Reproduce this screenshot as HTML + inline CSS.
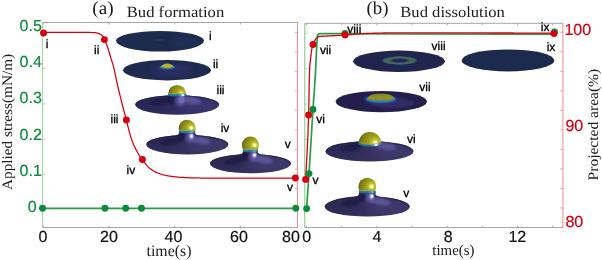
<!DOCTYPE html>
<html><head><meta charset="utf-8"><title>Bud formation and dissolution</title>
<style>
html,body{margin:0;padding:0;background:#fff;}
body{width:602px;height:260px;overflow:hidden;}
svg{display:block;}
</style></head><body>
<svg width="602" height="260" viewBox="0 0 602 260" text-rendering="geometricPrecision">
<rect width="602" height="260" fill="#fff"/>
<defs>
<radialGradient id="sph" cx="0.73" cy="0.5" r="0.86" fx="0.75" fy="0.5">
 <stop offset="0" stop-color="#ffffff"/>
 <stop offset="0.08" stop-color="#ffffa0"/>
 <stop offset="0.17" stop-color="#c8c634"/>
 <stop offset="0.36" stop-color="#a0a01e"/>
 <stop offset="0.66" stop-color="#828216"/>
 <stop offset="0.88" stop-color="#5e5e0d"/>
 <stop offset="1" stop-color="#4a4a0a"/>
</radialGradient>
<linearGradient id="neck" x1="0" x2="1" y1="0" y2="0">
 <stop offset="0" stop-color="#252458"/>
 <stop offset="0.45" stop-color="#38357a"/>
 <stop offset="0.75" stop-color="#5a52a0"/>
 <stop offset="1" stop-color="#3a3780"/>
</linearGradient>
<radialGradient id="discP" cx="0.55" cy="0.35" r="0.7">
 <stop offset="0" stop-color="#45408a"/>
 <stop offset="0.5" stop-color="#37357a"/>
 <stop offset="1" stop-color="#2f2f6c"/>
</radialGradient>
<radialGradient id="discN" cx="0.55" cy="0.4" r="0.7">
 <stop offset="0" stop-color="#2b2d60"/>
 <stop offset="1" stop-color="#1f2a52"/>
</radialGradient>
<radialGradient id="hl" cx="0.5" cy="0.5" r="0.5">
 <stop offset="0" stop-color="#ffffff" stop-opacity="1"/>
 <stop offset="0.3" stop-color="#ffffff" stop-opacity="0.95"/>
 <stop offset="0.55" stop-color="#cfc8ff" stop-opacity="0.6"/>
 <stop offset="1" stop-color="#7a70c0" stop-opacity="0"/>
</radialGradient>
<linearGradient id="ring" x1="0" x2="0" y1="0" y2="1">
 <stop offset="0" stop-color="#4d9478"/>
 <stop offset="0.3" stop-color="#1f8a9c"/>
 <stop offset="0.7" stop-color="#236f9c"/>
 <stop offset="1" stop-color="#33468a"/>
</linearGradient>
<linearGradient id="ringhl" x1="0" x2="1" y1="0" y2="0">
 <stop offset="0" stop-color="#0a4a60" stop-opacity="0.45"/>
 <stop offset="0.45" stop-color="#2aa3b4" stop-opacity="0"/>
 <stop offset="0.80" stop-color="#b0f4ff" stop-opacity="0.85"/>
 <stop offset="1" stop-color="#2aa3b4" stop-opacity="0"/>
</linearGradient>
<filter id="b3" x="-30%" y="-50%" width="160%" height="200%"><feGaussianBlur stdDeviation="3"/></filter>
<radialGradient id="r8" cx="0.5" cy="0.5" r="0.5">
 <stop offset="0" stop-color="#2a1f5a" stop-opacity="1"/>
 <stop offset="0.36" stop-color="#29235c" stop-opacity="1"/>
 <stop offset="0.50" stop-color="#1f7480"/>
 <stop offset="0.60" stop-color="#557f4c"/>
 <stop offset="0.69" stop-color="#806c40"/>
 <stop offset="0.78" stop-color="#4a7f55"/>
 <stop offset="0.90" stop-color="#1d6f7c"/>
 <stop offset="1" stop-color="#20264f" stop-opacity="0"/>
</radialGradient>
<linearGradient id="d7" x1="0" x2="0" y1="0" y2="1">
 <stop offset="0" stop-color="#868622"/>
 <stop offset="0.6" stop-color="#939128"/>
 <stop offset="0.85" stop-color="#97843a"/>
 <stop offset="1" stop-color="#6a9250"/>
</linearGradient>
<filter id="b05" x="-10%" y="-30%" width="120%" height="160%"><feGaussianBlur stdDeviation="0.35"/></filter>
<filter id="b1" x="-10%" y="-30%" width="120%" height="160%"><feGaussianBlur stdDeviation="0.5"/></filter>
<filter id="b2" x="-30%" y="-30%" width="160%" height="160%"><feGaussianBlur stdDeviation="0.9"/></filter>
</defs>
<path d="M42.5,22.5 H297.5 M42.5,227.5 H297.5" stroke="#a6a6a6" stroke-width="1" fill="none"/>
<path d="M42.5,22.5 V227.5" stroke="#a2d6a2" stroke-width="1.1" fill="none"/>
<path d="M297.5,22.5 V227.5" stroke="#f28a8a" stroke-width="1" fill="none"/>
<path d="M43.4,227.5 v-2 M43.4,22.5 v2 M109.0,227.5 v-2 M109.0,22.5 v2 M174.7,227.5 v-2 M174.7,22.5 v2 M240.6,227.5 v-2 M240.6,22.5 v2 " stroke="#a6a6a6" stroke-width="0.9" fill="none"/>
<path d="M42.5,33.4 h2.5 M42.5,68.5 h2.5 M42.5,104.0 h2.5 M42.5,139.3 h2.5 M42.5,174.4 h2.5 M42.5,208.3 h2.5 " stroke="#a2d6a2" stroke-width="1" fill="none"/>
<path d="M297.5,32.30 h-2.5 M297.5,51.82 h-2.5 M297.5,71.34 h-2.5 M297.5,90.86 h-2.5 M297.5,110.38 h-2.5 M297.5,129.90 h-2.5 M297.5,149.42 h-2.5 M297.5,168.94 h-2.5 M297.5,188.46 h-2.5 M297.5,207.98 h-2.5 M297.5,227.50 h-2.5 " stroke="#f28a8a" stroke-width="0.9" fill="none"/>
<path d="M304.7,23.3 H562.9 M304.7,227.5 H562.9" stroke="#a6a6a6" stroke-width="1" fill="none"/>
<path d="M304.7,23.3 V227.5" stroke="#a2d6a2" stroke-width="1.4" fill="none"/>
<path d="M562.9,23.3 V227.5" stroke="#f28a8a" stroke-width="1" fill="none"/>
<path d="M306.50,227.5 v-2 M306.50,23.3 v2 M341.67,227.5 v-2 M341.67,23.3 v2 M376.84,227.5 v-2 M376.84,23.3 v2 M412.01,227.5 v-2 M412.01,23.3 v2 M447.18,227.5 v-2 M447.18,23.3 v2 M482.35,227.5 v-2 M482.35,23.3 v2 M517.52,227.5 v-2 M517.52,23.3 v2 M552.69,227.5 v-2 M552.69,23.3 v2 " stroke="#a6a6a6" stroke-width="0.9" fill="none"/>
<path d="M304.7,33.4 h2.5 M304.7,68.5 h2.5 M304.7,104.0 h2.5 M304.7,139.3 h2.5 M304.7,174.4 h2.5 M304.7,208.3 h2.5 " stroke="#a2d6a2" stroke-width="1" fill="none"/>
<path d="M562.9,32.30 h-2.5 M562.9,51.82 h-2.5 M562.9,71.34 h-2.5 M562.9,90.86 h-2.5 M562.9,110.38 h-2.5 M562.9,129.90 h-2.5 M562.9,149.42 h-2.5 M562.9,168.94 h-2.5 M562.9,188.46 h-2.5 M562.9,207.98 h-2.5 M562.9,227.50 h-2.5 " stroke="#f28a8a" stroke-width="0.9" fill="none"/>
<path d="M116,40.6 A44,9.6 0 0 1 204,40.6 A44,11.0 0 0 1 116,40.6Z" fill="#1d2b4d"/>
<ellipse cx="160" cy="40.2" rx="5" ry="1.3" fill="#1a4a60" opacity="0.6" filter="url(#b1)"/>
<clipPath id="ci"><path d="M116,40.6 A44,9.6 0 0 1 204,40.6 A44,11.0 0 0 1 116,40.6Z"/></clipPath>
<g clip-path="url(#ci)"><ellipse cx="185" cy="42" rx="16" ry="5" fill="#26355e" opacity="0.6" filter="url(#b3)"/></g>
<ellipse cx="167" cy="70.2" rx="44" ry="10.2" fill="#1e2a50"/>
<ellipse cx="172" cy="70.5" rx="20" ry="5" fill="#3f3278" opacity="0.6" filter="url(#b3)"/>
<ellipse cx="167.3" cy="67.6" rx="9.5" ry="3" fill="#3b2f7a" opacity="0.8" filter="url(#b2)"/>
<ellipse cx="167.3" cy="67.0" rx="7.6" ry="2.2" fill="#2397a8" opacity="0.9" filter="url(#b1)"/>
<path d="M161.6,66.8 C162,64.4 165,63.6 167.3,63.6 C169.6,63.6 172.6,64.4 173,66.8 C171,68.2 163.6,68.2 161.6,66.8Z" fill="#b7b22a" filter="url(#b05)"/>
<clipPath id="bd1"><path d="M135.2,104.6 A42.0,9.4 0 0 1 219.2,104.6 A42.0,10.2 0 0 1 135.2,104.6Z"/><path d="M168.0,94.0 L168.0,96.3 C168.0,95.63 166.74,95.61 164.40,95.80 L164.40,100.80 L189.80,100.78 L189.80,95.78 C187.46,95.60 186.2,95.62 186.2,96.3 L186.2,94.0Z"/></clipPath>
<path d="M135.2,104.6 A42.0,9.4 0 0 1 219.2,104.6 A42.0,10.2 0 0 1 135.2,104.6Z" fill="#302e62"/>
<path d="M168.0,94.0 L168.0,96.3 C168.0,95.63 166.74,95.61 164.40,95.80 L164.40,100.80 L189.80,100.78 L189.80,95.78 C187.46,95.60 186.2,95.62 186.2,96.3 L186.2,94.0Z" fill="#302e62"/>
<g clip-path="url(#bd1)">
<ellipse cx="198.2" cy="104.6" rx="21.0" ry="9.18" fill="#5d5599" opacity="0.22" filter="url(#b3)"/>
<ellipse cx="152.0" cy="103.6" rx="18.900000000000002" ry="8.16" fill="#1f1c42" opacity="0.35" filter="url(#b3)"/>
<path d="M135.2,104.6 A42.0,9.4 0 0 1 219.2,104.6" fill="none" stroke="#1f1c42" stroke-width="2.2" opacity="0.7" filter="url(#b1)"/>
<ellipse cx="161.0" cy="99.40002664402869" rx="11" ry="3.2" fill="#1f1c42" opacity="0.85" filter="url(#b2)" transform="rotate(-12 168.0 98.20002664402868)"/>
<ellipse cx="191.2" cy="99.60002664402869" rx="11" ry="3.6" fill="#5d5599" opacity="0.95" filter="url(#b2)" transform="rotate(10 186.2 98.20002664402868)"/>
<ellipse cx="170.548" cy="99.2" rx="3.8219999999999996" ry="5.5" fill="#1f1c42" opacity="0.75" filter="url(#b1)"/>
<ellipse cx="180.558" cy="100.2" rx="5.005" ry="6.0" fill="#5d5599" opacity="0.95" filter="url(#b2)"/>
<ellipse cx="181.65" cy="99.6" rx="3.003" ry="3.6" fill="#7a70c0" opacity="0.8" filter="url(#b1)"/>
</g>
<clipPath id="bd1s"><rect x="167.1" y="83.9" width="20.0" height="9.999999999999995"/></clipPath>
<circle cx="177.1" cy="93.9" r="9.0" fill="url(#sph)" clip-path="url(#bd1s)"/>
<path d="M168.04999999999998,93.5 Q177.1,94.2 186.15,93.5 L186.15,96.0 Q177.1,97.2 168.04999999999998,96.0 Z" fill="url(#ring)"/>
<path d="M168.04999999999998,93.5 Q177.1,94.2 186.15,93.5 L186.15,96.0 Q177.1,97.2 168.04999999999998,96.0 Z" fill="url(#ringhl)" opacity="0.55"/>
<path d="M168.3,93.2 Q177.1,93.9 185.89999999999998,93.2" stroke="#b89a3e" stroke-width="0.9" fill="none" opacity="0.8"/>
<ellipse cx="182.742" cy="95.0" rx="2.6" ry="2.0" fill="url(#hl)"/>
<clipPath id="bd2"><path d="M146.3,144.4 A41.0,9.3 0 0 1 228.3,144.4 A41.0,10.1 0 0 1 146.3,144.4Z"/><path d="M179.0,130.8 L179.0,133.10000000000002 C179.0,135.49 175.85,135.60 170.00,136.12 L170.00,141.12 L204.20,141.08 L204.20,136.08 C198.35,135.57 195.2,135.47 195.2,133.10000000000002 L195.2,130.8Z"/></clipPath>
<path d="M146.3,144.4 A41.0,9.3 0 0 1 228.3,144.4 A41.0,10.1 0 0 1 146.3,144.4Z" fill="#36315e"/>
<path d="M179.0,130.8 L179.0,133.10000000000002 C179.0,135.49 175.85,135.60 170.00,136.12 L170.00,141.12 L204.20,141.08 L204.20,136.08 C198.35,135.57 195.2,135.47 195.2,133.10000000000002 L195.2,130.8Z" fill="#36315e"/>
<g clip-path="url(#bd2)">
<ellipse cx="207.8" cy="144.4" rx="20.5" ry="9.09" fill="#5d5599" opacity="0.22" filter="url(#b3)"/>
<ellipse cx="162.70000000000002" cy="143.4" rx="18.45" ry="8.08" fill="#1f1c42" opacity="0.35" filter="url(#b3)"/>
<path d="M146.3,144.4 A41.0,9.3 0 0 1 228.3,144.4" fill="none" stroke="#1f1c42" stroke-width="2.2" opacity="0.7" filter="url(#b1)"/>
<ellipse cx="172.0" cy="139.3001106490818" rx="11" ry="3.2" fill="#1f1c42" opacity="0.85" filter="url(#b2)" transform="rotate(-12 179.0 138.1001106490818)"/>
<ellipse cx="200.2" cy="139.50011064908182" rx="11" ry="3.6" fill="#5d5599" opacity="0.95" filter="url(#b2)" transform="rotate(10 195.2 138.1001106490818)"/>
<ellipse cx="181.268" cy="136.0" rx="3.4019999999999997" ry="5.5" fill="#1f1c42" opacity="0.75" filter="url(#b1)"/>
<ellipse cx="190.178" cy="137.0" rx="4.455" ry="6.0" fill="#5d5599" opacity="0.95" filter="url(#b2)"/>
<ellipse cx="191.15" cy="136.4" rx="2.673" ry="3.6" fill="#7a70c0" opacity="0.8" filter="url(#b1)"/>
</g>
<clipPath id="bd2s"><rect x="177.7" y="118.69999999999999" width="18.8" height="12.000000000000023"/></clipPath>
<circle cx="187.1" cy="128.1" r="8.4" fill="url(#sph)" clip-path="url(#bd2s)"/>
<path d="M179.04999999999998,130.3 Q187.1,131.0 195.15,130.3 L195.15,132.8 Q187.1,134.0 179.04999999999998,132.8 Z" fill="url(#ring)"/>
<path d="M179.04999999999998,130.3 Q187.1,131.0 195.15,130.3 L195.15,132.8 Q187.1,134.0 179.04999999999998,132.8 Z" fill="url(#ringhl)" opacity="0.55"/>
<path d="M179.3,130.0 Q187.1,130.7 194.89999999999998,130.0" stroke="#b89a3e" stroke-width="0.9" fill="none" opacity="0.8"/>
<ellipse cx="191.555" cy="136.20000000000002" rx="3.0" ry="3.3" fill="url(#hl)"/>
<clipPath id="bd3"><path d="M210.0,163.5 A40.5,9.3 0 0 1 291.0,163.5 A40.5,9.8 0 0 1 210.0,163.5Z"/><path d="M242.9,149.7 L242.9,152.0 C242.9,154.57 239.54,154.68 233.30,155.23 L233.30,160.23 L267.50,160.21 L267.50,155.21 C261.26,154.67 257.9,154.56 257.9,152.0 L257.9,149.7Z"/></clipPath>
<path d="M210.0,163.5 A40.5,9.3 0 0 1 291.0,163.5 A40.5,9.8 0 0 1 210.0,163.5Z" fill="#36315e"/>
<path d="M242.9,149.7 L242.9,152.0 C242.9,154.57 239.54,154.68 233.30,155.23 L233.30,160.23 L267.50,160.21 L267.50,155.21 C261.26,154.67 257.9,154.56 257.9,152.0 L257.9,149.7Z" fill="#36315e"/>
<g clip-path="url(#bd3)">
<ellipse cx="270.75" cy="163.5" rx="20.25" ry="8.82" fill="#5d5599" opacity="0.22" filter="url(#b3)"/>
<ellipse cx="226.2" cy="162.5" rx="18.225" ry="7.840000000000001" fill="#1f1c42" opacity="0.35" filter="url(#b3)"/>
<path d="M210.0,163.5 A40.5,9.3 0 0 1 291.0,163.5" fill="none" stroke="#1f1c42" stroke-width="2.2" opacity="0.7" filter="url(#b1)"/>
<ellipse cx="235.9" cy="158.4000283493802" rx="11" ry="3.2" fill="#1f1c42" opacity="0.85" filter="url(#b2)" transform="rotate(-12 242.9 157.2000283493802)"/>
<ellipse cx="262.9" cy="158.6000283493802" rx="11" ry="3.6" fill="#5d5599" opacity="0.95" filter="url(#b2)" transform="rotate(10 257.9 157.2000283493802)"/>
<ellipse cx="245.0" cy="154.89999999999998" rx="3.15" ry="5.5" fill="#1f1c42" opacity="0.75" filter="url(#b1)"/>
<ellipse cx="253.25" cy="155.89999999999998" rx="4.125" ry="6.0" fill="#5d5599" opacity="0.95" filter="url(#b2)"/>
<ellipse cx="254.15" cy="155.29999999999998" rx="2.475" ry="3.6" fill="#7a70c0" opacity="0.8" filter="url(#b1)"/>
</g>
<clipPath id="bd3s"><rect x="240.9" y="135.6" width="19.0" height="13.999999999999995"/></clipPath>
<circle cx="250.4" cy="145.1" r="8.5" fill="url(#sph)" clip-path="url(#bd3s)"/>
<path d="M242.95000000000002,149.2 Q250.4,149.89999999999998 257.85,149.2 L257.85,151.7 Q250.4,152.89999999999998 242.95000000000002,151.7 Z" fill="url(#ring)"/>
<path d="M242.95000000000002,149.2 Q250.4,149.89999999999998 257.85,149.2 L257.85,151.7 Q250.4,152.89999999999998 242.95000000000002,151.7 Z" fill="url(#ringhl)" opacity="0.55"/>
<path d="M243.20000000000002,148.89999999999998 Q250.4,149.59999999999997 257.59999999999997,148.89999999999998" stroke="#b89a3e" stroke-width="0.9" fill="none" opacity="0.8"/>
<ellipse cx="254.525" cy="155.1" rx="3.0" ry="3.3" fill="url(#hl)"/>
<ellipse cx="399" cy="61.3" rx="46" ry="10.7" fill="#21254d"/>
<ellipse cx="399.5" cy="60.5" rx="18.6" ry="4.5" fill="url(#r8)" opacity="0.75" filter="url(#b05)"/>
<ellipse cx="381.3" cy="101.6" rx="45.7" ry="10.6" fill="#231f4a"/>
<ellipse cx="392" cy="103" rx="22" ry="5" fill="#40387a" opacity="0.55" filter="url(#b2)"/>
<ellipse cx="380.8" cy="99.6" rx="16.8" ry="4.6" fill="#34389a" opacity="0.8" filter="url(#b2)"/>
<ellipse cx="380.8" cy="99.1" rx="15.0" ry="3.6" fill="#2292a6" opacity="0.85" filter="url(#b1)"/>
<path d="M367.8,98.4 C368.4,95.2 373,93.8 380.8,93.8 C388.6,93.8 393.2,95.2 393.8,98.4 C392,101.7 369.6,101.7 367.8,98.4Z" fill="url(#d7)" filter="url(#b05)"/>
<clipPath id="bd4"><path d="M325.5,151.4 A44,10.3 0 0 1 413.5,151.4 A44,10.1 0 0 1 325.5,151.4Z"/></clipPath>
<path d="M325.5,151.4 A44,10.3 0 0 1 413.5,151.4 A44,10.1 0 0 1 325.5,151.4Z" fill="#36315e"/>
<g clip-path="url(#bd4)">
<ellipse cx="391.5" cy="151.4" rx="22.0" ry="9.09" fill="#5d5599" opacity="0.22" filter="url(#b3)"/>
<ellipse cx="343.1" cy="150.4" rx="19.8" ry="8.08" fill="#1f1c42" opacity="0.35" filter="url(#b3)"/>
<path d="M325.5,151.4 A44,10.3 0 0 1 413.5,151.4" fill="none" stroke="#1f1c42" stroke-width="2.2" opacity="0.7" filter="url(#b1)"/>
<ellipse cx="351.7" cy="145.30042562862886" rx="11" ry="3.2" fill="#1f1c42" opacity="0.85" filter="url(#b2)" transform="rotate(-12 358.7 144.10042562862887)"/>
<ellipse cx="386.09999999999997" cy="145.50042562862888" rx="11" ry="3.6" fill="#5d5599" opacity="0.95" filter="url(#b2)" transform="rotate(10 381.09999999999997 144.10042562862887)"/>
</g>
<clipPath id="bd4s"><rect x="357.59999999999997" y="130.89999999999998" width="24.6" height="11.900000000000029"/><ellipse cx="369.9" cy="142.4" rx="11.5" ry="2.6"/></clipPath>
<circle cx="369.9" cy="143.2" r="11.3" fill="url(#sph)" clip-path="url(#bd4s)"/>
<path d="M358.59999999999997,142.4 Q369.9,146.8 381.2,142.4 L381.2,144.4 Q369.9,149.3 358.59999999999997,144.4 Z" fill="url(#ring)"/>
<path d="M358.59999999999997,142.4 Q369.9,146.8 381.2,142.4 L381.2,144.4 Q369.9,149.3 358.59999999999997,144.4 Z" fill="url(#ringhl)" opacity="1.0"/>
<path d="M359.0,142.1 Q369.9,146.5 380.79999999999995,142.1" stroke="#b89a3e" stroke-width="0.9" fill="none" opacity="0.8"/>
<ellipse cx="376.06" cy="144.6" rx="3.2" ry="2.2" fill="url(#hl)"/>
<clipPath id="bd5"><path d="M324.7,207.0 A42.5,10.8 0 0 1 409.7,207.0 A42.5,9.6 0 0 1 324.7,207.0Z"/><path d="M359.1,190.9 L359.1,193.20000000000002 C359.1,196.60 355.74,196.73 349.50,197.33 L349.50,202.33 L385.10,202.35 L385.10,197.35 C378.86,196.75 375.5,196.61 375.5,193.20000000000002 L375.5,190.9Z"/></clipPath>
<path d="M324.7,207.0 A42.5,10.8 0 0 1 409.7,207.0 A42.5,9.6 0 0 1 324.7,207.0Z" fill="#36315e"/>
<path d="M359.1,190.9 L359.1,193.20000000000002 C359.1,196.60 355.74,196.73 349.50,197.33 L349.50,202.33 L385.10,202.35 L385.10,197.35 C378.86,196.75 375.5,196.61 375.5,193.20000000000002 L375.5,190.9Z" fill="#36315e"/>
<g clip-path="url(#bd5)">
<ellipse cx="388.45" cy="207.0" rx="21.25" ry="8.64" fill="#5d5599" opacity="0.22" filter="url(#b3)"/>
<ellipse cx="341.7" cy="206.0" rx="19.125" ry="7.68" fill="#1f1c42" opacity="0.35" filter="url(#b3)"/>
<path d="M324.7,207.0 A42.5,10.8 0 0 1 409.7,207.0" fill="none" stroke="#1f1c42" stroke-width="2.2" opacity="0.7" filter="url(#b1)"/>
<ellipse cx="352.1" cy="200.40002989623514" rx="11" ry="3.2" fill="#1f1c42" opacity="0.85" filter="url(#b2)" transform="rotate(-12 359.1 199.20002989623515)"/>
<ellipse cx="380.5" cy="200.60002989623516" rx="11" ry="3.6" fill="#5d5599" opacity="0.95" filter="url(#b2)" transform="rotate(10 375.5 199.20002989623515)"/>
<ellipse cx="361.396" cy="196.1" rx="3.4439999999999995" ry="5.5" fill="#1f1c42" opacity="0.75" filter="url(#b1)"/>
<ellipse cx="370.416" cy="197.1" rx="4.51" ry="6.0" fill="#5d5599" opacity="0.95" filter="url(#b2)"/>
<ellipse cx="371.40000000000003" cy="196.5" rx="2.706" ry="3.6" fill="#7a70c0" opacity="0.8" filter="url(#b1)"/>
</g>
<clipPath id="bd5s"><rect x="357.45" y="176.65" width="19.7" height="14.15"/></clipPath>
<circle cx="367.3" cy="186.5" r="8.85" fill="url(#sph)" clip-path="url(#bd5s)"/>
<path d="M359.15000000000003,190.4 Q367.3,191.1 375.45,190.4 L375.45,192.9 Q367.3,194.1 359.15000000000003,192.9 Z" fill="url(#ring)"/>
<path d="M359.15000000000003,190.4 Q367.3,191.1 375.45,190.4 L375.45,192.9 Q367.3,194.1 359.15000000000003,192.9 Z" fill="url(#ringhl)" opacity="0.55"/>
<path d="M359.40000000000003,190.1 Q367.3,190.79999999999998 375.2,190.1" stroke="#b89a3e" stroke-width="0.9" fill="none" opacity="0.8"/>
<ellipse cx="371.81" cy="196.3" rx="3.0" ry="3.3" fill="url(#hl)"/>
<ellipse cx="508" cy="60.4" rx="46.4" ry="11" fill="#1c2b4d"/>
<path d="M42.5,208.3 H295.8" stroke="#2d9a46" stroke-width="1.7" fill="none"/>
<path d="M43.50,32.45 L44.67,32.45 L45.84,32.45 L47.00,32.45 L48.17,32.45 L49.34,32.45 L50.51,32.45 L51.68,32.45 L52.85,32.45 L54.01,32.45 L55.18,32.45 L56.35,32.45 L57.52,32.45 L58.69,32.45 L59.85,32.45 L61.02,32.45 L62.19,32.45 L63.36,32.45 L64.53,32.45 L65.70,32.45 L66.86,32.45 L68.03,32.45 L69.20,32.45 L70.37,32.45 L71.54,32.45 L72.71,32.45 L73.87,32.45 L75.04,32.45 L76.21,32.45 L77.38,32.45 L78.55,32.45 L79.71,32.45 L80.88,32.45 L82.05,32.45 L83.22,32.45 L84.39,32.45 L85.56,32.45 L86.72,32.45 L87.89,32.45 L89.06,32.46 L90.23,32.47 L91.40,32.50 L92.57,32.54 L93.73,32.59 L94.90,32.67 L96.07,32.85 L97.24,33.11 L98.36,33.43 L99.43,33.79 L100.51,34.30 L101.53,34.98 L102.39,35.76 L103.02,36.64 L103.52,37.69 L103.97,38.83 L104.45,39.92 L104.94,40.98 L105.43,42.04 L105.92,43.10 L106.40,44.17 L106.85,45.25 L107.27,46.33 L107.67,47.42 L108.04,48.53 L108.39,49.64 L108.73,50.76 L109.06,51.88 L109.38,53.00 L109.70,54.13 L110.02,55.26 L110.35,56.38 L110.68,57.50 L111.02,58.62 L111.38,59.73 L111.76,60.84 L112.16,61.94 L112.53,63.04 L112.86,64.16 L113.16,65.29 L113.45,66.41 L113.73,67.54 L114.00,68.68 L114.27,69.82 L114.52,70.96 L114.77,72.10 L115.01,73.24 L115.25,74.39 L115.48,75.54 L115.71,76.68 L115.95,77.83 L116.18,78.98 L116.42,80.12 L116.66,81.27 L116.91,82.41 L117.17,83.55 L117.43,84.69 L117.70,85.83 L117.97,86.96 L118.24,88.10 L118.51,89.24 L118.78,90.37 L119.06,91.51 L119.33,92.64 L119.61,93.78 L119.89,94.91 L120.17,96.05 L120.45,97.18 L120.73,98.31 L121.01,99.45 L121.30,100.58 L121.58,101.71 L121.87,102.85 L122.15,103.98 L122.44,105.11 L122.73,106.24 L123.02,107.38 L123.31,108.51 L123.60,109.64 L123.89,110.77 L124.18,111.90 L124.48,113.03 L124.77,114.16 L125.06,115.29 L125.36,116.42 L125.66,117.55 L125.95,118.68 L126.25,119.81 L126.55,120.94 L126.84,122.08 L127.13,123.21 L127.41,124.35 L127.70,125.49 L127.98,126.62 L128.27,127.76 L128.56,128.90 L128.85,130.03 L129.14,131.17 L129.45,132.30 L129.76,133.43 L130.07,134.55 L130.40,135.67 L130.74,136.78 L131.09,137.89 L131.45,138.99 L131.83,140.09 L132.23,141.18 L132.65,142.27 L133.09,143.35 L133.54,144.43 L134.02,145.50 L134.51,146.57 L135.02,147.63 L135.53,148.68 L136.06,149.73 L136.60,150.76 L137.15,151.78 L137.72,152.80 L138.31,153.80 L138.92,154.80 L139.56,155.79 L140.20,156.77 L140.87,157.74 L141.54,158.70 L142.23,159.64 L142.93,160.57 L143.63,161.51 L144.35,162.45 L145.09,163.38 L145.84,164.31 L146.61,165.21 L147.40,166.08 L148.21,166.91 L149.05,167.70 L149.92,168.43 L150.82,169.12 L151.78,169.79 L152.77,170.42 L153.80,171.02 L154.84,171.59 L155.90,172.11 L156.96,172.58 L158.03,173.02 L159.11,173.45 L160.22,173.85 L161.34,174.23 L162.46,174.57 L163.60,174.88 L164.73,175.14 L165.86,175.37 L167.00,175.60 L168.15,175.81 L169.30,176.02 L170.45,176.21 L171.61,176.39 L172.77,176.56 L173.94,176.72 L175.10,176.87 L176.27,176.99 L177.43,177.11 L178.60,177.21 L179.76,177.29 L180.92,177.35 L182.09,177.42 L183.25,177.48 L184.42,177.54 L185.58,177.60 L186.75,177.66 L187.92,177.71 L189.09,177.76 L190.26,177.80 L191.42,177.85 L192.59,177.88 L193.76,177.92 L194.93,177.94 L196.10,177.97 L197.27,177.98 L198.44,177.99 L199.61,178.00 L200.78,178.00 L201.94,178.00 L203.11,178.00 L204.28,178.00 L205.45,178.00 L206.62,178.00 L207.78,178.00 L208.95,178.00 L210.12,178.00 L211.29,178.00 L212.46,178.00 L213.62,178.00 L214.79,178.00 L215.96,178.00 L217.13,178.00 L218.30,178.00 L219.47,178.00 L220.63,178.00 L221.80,178.00 L222.97,178.00 L224.14,178.00 L225.31,178.00 L226.48,178.00 L227.64,178.00 L228.81,178.00 L229.98,178.00 L231.15,178.00 L232.32,178.00 L233.49,178.00 L234.65,178.00 L235.82,178.00 L236.99,178.00 L238.16,178.00 L239.33,178.00 L240.49,178.00 L241.66,178.00 L242.83,178.00 L244.00,178.00 L245.17,178.00 L246.34,178.00 L247.50,178.00 L248.67,178.00 L249.84,178.00 L251.01,178.00 L252.18,178.00 L253.34,178.00 L254.51,178.00 L255.68,178.00 L256.85,178.00 L258.02,178.00 L259.19,178.00 L260.35,178.00 L261.52,178.00 L262.69,178.00 L263.86,178.00 L265.03,178.00 L266.19,178.00 L267.36,178.00 L268.53,178.00 L269.70,178.00 L270.87,178.00 L272.04,178.00 L273.20,178.00 L274.37,178.00 L275.54,178.00 L276.71,178.00 L277.88,178.00 L279.05,178.00 L280.21,178.00 L281.38,178.00 L282.55,178.00 L283.72,178.00 L284.89,178.00 L286.05,178.00 L287.22,178.00 L288.39,178.00 L289.56,178.00 L290.73,178.00 L291.90,178.00 L293.06,178.00 L294.23,178.00 L295.40,178.00" stroke="#d6000f" stroke-width="1.25" fill="none" stroke-linejoin="round"/>
<path d="M306.60,208.60 L306.81,205.69 L307.01,202.79 L307.21,199.88 L307.42,196.97 L307.62,194.06 L307.82,191.16 L308.02,188.25 L308.22,185.34 L308.41,182.43 L308.61,179.53 L308.80,176.62 L308.99,173.71 L309.18,170.80 L309.37,167.90 L309.56,164.99 L309.74,162.08 L309.92,159.17 L310.10,156.26 L310.28,153.35 L310.46,150.44 L310.64,147.54 L310.82,144.63 L311.00,141.72 L311.17,138.81 L311.35,135.90 L311.53,132.99 L311.71,130.08 L311.89,127.17 L312.07,124.27 L312.25,121.36 L312.43,118.45 L312.61,115.54 L312.79,112.63 L312.98,109.72 L313.17,106.82 L313.36,103.91 L313.56,101.00 L313.76,98.09 L313.96,95.19 L314.17,92.28 L314.37,89.37 L314.57,86.46 L314.76,83.56 L314.96,80.65 L315.14,77.74 L315.32,74.83 L315.49,71.92 L315.65,69.01 L315.80,66.10 L315.94,63.19 L316.07,60.28 L316.20,57.37 L316.33,54.46 L316.47,51.55 L316.61,48.64 L316.76,45.73 L316.93,42.82 L317.11,39.91 L317.30,37.00 Q317.4,33.7 320,33.7 L345,33.6 L400,34 L554.3,34.2" stroke="#2d9a46" stroke-width="1.7" fill="none" stroke-linejoin="round"/>
<path d="M305.60,179.40 L305.68,178.13 L305.75,176.86 L305.83,175.59 L305.91,174.32 L305.98,173.04 L306.05,171.77 L306.13,170.50 L306.20,169.23 L306.27,167.96 L306.34,166.69 L306.42,165.42 L306.49,164.15 L306.55,162.87 L306.62,161.60 L306.69,160.33 L306.76,159.06 L306.83,157.79 L306.89,156.52 L306.96,155.24 L307.02,153.97 L307.09,152.70 L307.15,151.43 L307.21,150.16 L307.27,148.89 L307.33,147.61 L307.39,146.34 L307.45,145.07 L307.51,143.80 L307.57,142.53 L307.63,141.26 L307.68,139.98 L307.74,138.71 L307.79,137.44 L307.84,136.17 L307.90,134.90 L307.95,133.62 L308.00,132.35 L308.05,131.08 L308.10,129.81 L308.15,128.54 L308.19,127.26 L308.24,125.99 L308.28,124.72 L308.33,123.45 L308.37,122.18 L308.42,120.90 L308.46,119.63 L308.50,118.36 L308.54,117.09 L308.58,115.82 L308.61,114.54 L308.65,113.27 L308.68,112.00 L308.71,110.72 L308.74,109.45 L308.77,108.18 L308.80,106.91 L308.82,105.63 L308.85,104.36 L308.87,103.08 L308.89,101.81 L308.91,100.54 L308.93,99.26 L308.95,97.99 L308.97,96.72 L308.99,95.44 L309.01,94.17 L309.03,92.89 L309.06,91.62 L309.08,90.35 L309.10,89.07 L309.12,87.80 L309.14,86.53 L309.17,85.25 L309.19,83.98 L309.22,82.71 L309.25,81.44 L309.28,80.16 L309.31,78.89 L309.34,77.62 L309.38,76.35 L309.42,75.08 L309.46,73.81 L309.50,72.54 L309.55,71.27 L309.60,70.00 L309.66,68.73 L309.73,67.46 L309.82,66.19 L309.92,64.92 L310.03,63.65 L310.16,62.38 L310.29,61.11 L310.42,59.84 L310.57,58.57 L310.72,57.31 L310.87,56.05 L311.03,54.79 L311.18,53.52 L311.35,52.24 L311.53,50.96 L311.72,49.69 L311.94,48.42 L312.18,47.17 L312.45,45.94 L312.76,44.74 L313.16,43.56 L313.69,42.39 L314.32,41.25 L315.03,40.16 L315.76,39.14 L316.61,38.03 L317.55,37.06 L318.57,36.59 L319.66,36.45 L320.84,36.33 L322.09,36.25 L323.38,36.18 L324.71,36.12 L326.06,36.07 L327.40,36.02 L328.73,35.97 L330.02,35.90 L331.29,35.82 L332.57,35.75 L333.84,35.67 L335.11,35.60 L336.38,35.53 L337.65,35.45 L338.92,35.38 L340.19,35.30 L341.46,35.22 L342.73,35.15 L344.00,35.06 L345.27,34.98 L346.54,34.89 L347.81,34.80 L349.08,34.70 L350.35,34.60 L351.62,34.50 L352.89,34.40 L354.16,34.30 L355.43,34.21 L356.70,34.11 L357.97,34.03 L359.24,33.94 L360.51,33.87 L361.78,33.80 L363.05,33.73 L364.32,33.66 L365.59,33.59 L366.87,33.52 L368.14,33.46 L369.41,33.40 L370.68,33.34 L371.95,33.29 L373.23,33.25 L374.50,33.21 L375.77,33.18 L377.04,33.15 L378.32,33.12 L379.59,33.09 L380.86,33.06 L382.13,33.03 L383.41,33.00 L384.68,32.98 L385.95,32.95 L387.23,32.93 L388.50,32.91 L389.77,32.88 L391.05,32.87 L392.32,32.85 L393.59,32.84 L394.86,32.82 L396.14,32.81 L397.41,32.81 L398.68,32.80 L399.96,32.80 L401.23,32.80 L402.50,32.80 L403.78,32.80 L405.05,32.80 L406.32,32.80 L407.60,32.80 L408.87,32.81 L410.14,32.81 L411.41,32.81 L412.69,32.81 L413.96,32.81 L415.23,32.82 L416.51,32.82 L417.78,32.82 L419.05,32.82 L420.33,32.83 L421.60,32.83 L422.87,32.83 L424.15,32.84 L425.42,32.84 L426.69,32.84 L427.96,32.85 L429.24,32.85 L430.51,32.85 L431.78,32.86 L433.06,32.86 L434.33,32.86 L435.60,32.87 L436.88,32.87 L438.15,32.87 L439.42,32.88 L440.70,32.88 L441.97,32.88 L443.24,32.89 L444.51,32.89 L445.79,32.89 L447.06,32.89 L448.33,32.90 L449.61,32.90 L450.88,32.90 L452.15,32.90 L453.43,32.91 L454.70,32.91 L455.97,32.91 L457.25,32.91 L458.52,32.92 L459.79,32.92 L461.07,32.92 L462.34,32.92 L463.61,32.93 L464.88,32.93 L466.16,32.93 L467.43,32.93 L468.70,32.94 L469.98,32.94 L471.25,32.94 L472.52,32.94 L473.80,32.95 L475.07,32.95 L476.34,32.95 L477.62,32.95 L478.89,32.96 L480.16,32.96 L481.43,32.96 L482.71,32.96 L483.98,32.97 L485.25,32.97 L486.53,32.97 L487.80,32.97 L489.07,32.98 L490.35,32.98 L491.62,32.98 L492.89,32.98 L494.17,32.99 L495.44,32.99 L496.71,32.99 L497.98,32.99 L499.26,33.00 L500.53,33.00 L501.80,33.00 L503.08,33.00 L504.35,33.01 L505.62,33.01 L506.90,33.01 L508.17,33.01 L509.44,33.02 L510.72,33.02 L511.99,33.02 L513.26,33.02 L514.53,33.03 L515.81,33.03 L517.08,33.03 L518.35,33.03 L519.63,33.04 L520.90,33.04 L522.17,33.04 L523.45,33.04 L524.72,33.04 L525.99,33.05 L527.27,33.05 L528.54,33.05 L529.81,33.05 L531.08,33.06 L532.36,33.06 L533.63,33.06 L534.90,33.06 L536.18,33.07 L537.45,33.07 L538.72,33.07 L540.00,33.07 L541.27,33.08 L542.54,33.08 L543.82,33.08 L545.09,33.08 L546.36,33.09 L547.63,33.09 L548.91,33.09 L550.18,33.09 L551.45,33.10 L552.73,33.10 L554.00,33.10" stroke="#d6000f" stroke-width="1.3" fill="none" stroke-linejoin="round"/>
<circle cx="42.5" cy="208.3" r="3.45" fill="#0b8a3a"/>
<circle cx="105" cy="208.3" r="3.45" fill="#0b8a3a"/>
<circle cx="125.7" cy="208.3" r="3.45" fill="#0b8a3a"/>
<circle cx="141.5" cy="208.3" r="3.45" fill="#0b8a3a"/>
<circle cx="295.8" cy="208.3" r="3.45" fill="#0b8a3a"/>
<circle cx="43.5" cy="33" r="3.45" fill="#d6000f"/>
<circle cx="104.4" cy="39.6" r="3.45" fill="#d6000f"/>
<circle cx="126.4" cy="120" r="3.45" fill="#d6000f"/>
<circle cx="142.4" cy="159.5" r="3.45" fill="#d6000f"/>
<circle cx="295.4" cy="178" r="3.45" fill="#d6000f"/>
<circle cx="306.6" cy="208.6" r="3.45" fill="#0b8a3a"/>
<circle cx="309" cy="173.6" r="3.45" fill="#0b8a3a"/>
<circle cx="313" cy="109.4" r="3.45" fill="#0b8a3a"/>
<circle cx="345" cy="33.5" r="3.45" fill="#0b8a3a"/>
<circle cx="554.5" cy="32" r="3.45" fill="#0b8a3a"/>
<circle cx="305.6" cy="179.4" r="3.45" fill="#d6000f"/>
<circle cx="308.6" cy="115" r="3.45" fill="#d6000f"/>
<circle cx="313" cy="44.5" r="3.45" fill="#d6000f"/>
<circle cx="345" cy="35" r="3.45" fill="#d6000f"/>
<circle cx="554" cy="33.6" r="3.45" fill="#d6000f"/>
<text x="41.8" y="30.5" font-family='"Liberation Sans", Arial, Helvetica, sans-serif' font-size="16" fill="#0b8a3a" text-anchor="end"  stroke="#0b8a3a" stroke-width="0.2">0.5</text>
<text x="41.8" y="66.8" font-family='"Liberation Sans", Arial, Helvetica, sans-serif' font-size="16" fill="#0b8a3a" text-anchor="end"  stroke="#0b8a3a" stroke-width="0.2">0.4</text>
<text x="41.8" y="103.1" font-family='"Liberation Sans", Arial, Helvetica, sans-serif' font-size="16" fill="#0b8a3a" text-anchor="end"  stroke="#0b8a3a" stroke-width="0.2">0.3</text>
<text x="41.8" y="139.5" font-family='"Liberation Sans", Arial, Helvetica, sans-serif' font-size="16" fill="#0b8a3a" text-anchor="end"  stroke="#0b8a3a" stroke-width="0.2">0.2</text>
<text x="41.8" y="175.8" font-family='"Liberation Sans", Arial, Helvetica, sans-serif' font-size="16" fill="#0b8a3a" text-anchor="end"  stroke="#0b8a3a" stroke-width="0.2">0.1</text>
<text x="32.3" y="212.3" font-family='"Liberation Sans", Arial, Helvetica, sans-serif' font-size="16" fill="#0b8a3a" text-anchor="middle"  stroke="#0b8a3a" stroke-width="0.2">0</text>
<text x="43.05" y="242" font-family='"Liberation Sans", Arial, Helvetica, sans-serif' font-size="16" fill="#111" text-anchor="middle"  stroke="#111" stroke-width="0.2">0</text>
<text x="109" y="242" font-family='"Liberation Sans", Arial, Helvetica, sans-serif' font-size="16" fill="#111" text-anchor="middle"  stroke="#111" stroke-width="0.2">20</text>
<text x="173.5" y="242" font-family='"Liberation Sans", Arial, Helvetica, sans-serif' font-size="16" fill="#111" text-anchor="middle"  stroke="#111" stroke-width="0.2">40</text>
<text x="239" y="242" font-family='"Liberation Sans", Arial, Helvetica, sans-serif' font-size="16" fill="#111" text-anchor="middle"  stroke="#111" stroke-width="0.2">60</text>
<text x="291" y="242" font-family='"Liberation Sans", Arial, Helvetica, sans-serif' font-size="16" fill="#111" text-anchor="middle"  stroke="#111" stroke-width="0.2">80</text>
<text x="306.6" y="242" font-family='"Liberation Sans", Arial, Helvetica, sans-serif' font-size="16" fill="#111" text-anchor="middle"  stroke="#111" stroke-width="0.2">0</text>
<text x="377" y="242" font-family='"Liberation Sans", Arial, Helvetica, sans-serif' font-size="16" fill="#111" text-anchor="middle"  stroke="#111" stroke-width="0.2">4</text>
<text x="448.1" y="242" font-family='"Liberation Sans", Arial, Helvetica, sans-serif' font-size="16" fill="#111" text-anchor="middle"  stroke="#111" stroke-width="0.2">8</text>
<text x="517.3" y="242" font-family='"Liberation Sans", Arial, Helvetica, sans-serif' font-size="16" fill="#111" text-anchor="middle"  stroke="#111" stroke-width="0.2">12</text>
<text x="564.4" y="34.5" font-family='"Liberation Sans", Arial, Helvetica, sans-serif' font-size="16" fill="#d6000f" text-anchor="start"  stroke="#d6000f" stroke-width="0.2">100</text>
<text x="565.4" y="131.4" font-family='"Liberation Sans", Arial, Helvetica, sans-serif' font-size="16" fill="#d6000f" text-anchor="start"  stroke="#d6000f" stroke-width="0.2">90</text>
<text x="565.4" y="226.7" font-family='"Liberation Sans", Arial, Helvetica, sans-serif' font-size="16" fill="#d6000f" text-anchor="start"  stroke="#d6000f" stroke-width="0.2">80</text>
<text transform="translate(92.3,14.2) scale(1.04,1)" font-family='"Liberation Serif", "Times New Roman", serif' font-size="18.5" fill="#1a1a1a" text-anchor="start">(a)</text>
<text transform="translate(126.7,17.2) scale(1.074,1)" font-family='"Liberation Serif", "Times New Roman", serif' font-size="15.5" fill="#1a1a1a" text-anchor="start">Bud formation</text>
<text transform="translate(366.5,14.2) scale(1.02,1)" font-family='"Liberation Serif", "Times New Roman", serif' font-size="18.5" fill="#1a1a1a" text-anchor="start">(b)</text>
<text transform="translate(400.3,17.2) scale(1.07,1)" font-family='"Liberation Serif", "Times New Roman", serif' font-size="15.5" fill="#1a1a1a" text-anchor="start">Bud dissolution</text>
<text transform="translate(169,256) scale(0.99,1)" font-family='"Liberation Serif", "Times New Roman", serif' font-size="16" fill="#1a1a1a" text-anchor="middle">time(s)</text>
<text transform="translate(453.4,255.4) scale(0.99,1)" font-family='"Liberation Serif", "Times New Roman", serif' font-size="15" fill="#1a1a1a" text-anchor="middle">time(s)</text>
<text transform="translate(11.5,121.9) rotate(-90) scale(1.052,1)" font-family='"Liberation Serif", "Times New Roman", serif' font-size="14.5" fill="#1a1a1a" text-anchor="middle">Applied stress(mN/m)</text>
<text transform="translate(598,124.6) rotate(-90) scale(1.071,1)" font-family='"Liberation Serif", "Times New Roman", serif' font-size="14.5" fill="#1a1a1a" text-anchor="middle">Projected area(%)</text>
<text x="47.1" y="48.0" font-family='"Liberation Sans", Arial, Helvetica, sans-serif' font-size="12" fill="#000" text-anchor="middle" stroke="#000" stroke-width="0.3">i</text>
<text x="96.75" y="54.0" font-family='"Liberation Sans", Arial, Helvetica, sans-serif' font-size="12" fill="#000" text-anchor="middle" stroke="#000" stroke-width="0.3">ii</text>
<text x="210.4" y="39.5" font-family='"Liberation Sans", Arial, Helvetica, sans-serif' font-size="12" fill="#000" text-anchor="middle" stroke="#000" stroke-width="0.3">i</text>
<text x="215.6" y="68.1" font-family='"Liberation Sans", Arial, Helvetica, sans-serif' font-size="12" fill="#000" text-anchor="middle" stroke="#000" stroke-width="0.3">ii</text>
<text x="220.5" y="94.1" font-family='"Liberation Sans", Arial, Helvetica, sans-serif' font-size="12" fill="#000" text-anchor="middle" stroke="#000" stroke-width="0.3">iii</text>
<text x="114.5" y="122.9" font-family='"Liberation Sans", Arial, Helvetica, sans-serif' font-size="12" fill="#000" text-anchor="middle" stroke="#000" stroke-width="0.3">iii</text>
<text x="225" y="132.1" font-family='"Liberation Sans", Arial, Helvetica, sans-serif' font-size="12" fill="#000" text-anchor="middle" stroke="#000" stroke-width="0.3">iv</text>
<text x="130.9" y="174.3" font-family='"Liberation Sans", Arial, Helvetica, sans-serif' font-size="12" fill="#000" text-anchor="middle" stroke="#000" stroke-width="0.3">iv</text>
<text x="287.7" y="148.2" font-family='"Liberation Sans", Arial, Helvetica, sans-serif' font-size="12" fill="#000" text-anchor="middle" stroke="#000" stroke-width="0.3">v</text>
<text x="290" y="190.9" font-family='"Liberation Sans", Arial, Helvetica, sans-serif' font-size="12" fill="#000" text-anchor="middle" stroke="#000" stroke-width="0.3">v</text>
<text x="315.5" y="183.5" font-family='"Liberation Sans", Arial, Helvetica, sans-serif' font-size="12" fill="#000" text-anchor="middle" stroke="#000" stroke-width="0.3">v</text>
<text x="320.6" y="122.9" font-family='"Liberation Sans", Arial, Helvetica, sans-serif' font-size="12" fill="#000" text-anchor="middle" stroke="#000" stroke-width="0.3">vi</text>
<text x="325.6" y="54.1" font-family='"Liberation Sans", Arial, Helvetica, sans-serif' font-size="12" fill="#000" text-anchor="middle" stroke="#000" stroke-width="0.3">vii</text>
<text x="354.3" y="32.9" font-family='"Liberation Sans", Arial, Helvetica, sans-serif' font-size="12" fill="#000" text-anchor="middle" stroke="#000" stroke-width="0.3">viii</text>
<text x="438.6" y="49.9" font-family='"Liberation Sans", Arial, Helvetica, sans-serif' font-size="12" fill="#000" text-anchor="middle" stroke="#000" stroke-width="0.3">viii</text>
<text x="425" y="91.1" font-family='"Liberation Sans", Arial, Helvetica, sans-serif' font-size="12" fill="#000" text-anchor="middle" stroke="#000" stroke-width="0.3">vii</text>
<text x="411.3" y="142.5" font-family='"Liberation Sans", Arial, Helvetica, sans-serif' font-size="12" fill="#000" text-anchor="middle" stroke="#000" stroke-width="0.3">vi</text>
<text x="406.2" y="197.1" font-family='"Liberation Sans", Arial, Helvetica, sans-serif' font-size="12" fill="#000" text-anchor="middle" stroke="#000" stroke-width="0.3">v</text>
<text x="545.1" y="31.3" font-family='"Liberation Sans", Arial, Helvetica, sans-serif' font-size="12" fill="#000" text-anchor="middle" stroke="#000" stroke-width="0.3">ix</text>
<text x="551" y="50.5" font-family='"Liberation Sans", Arial, Helvetica, sans-serif' font-size="12" fill="#000" text-anchor="middle" stroke="#000" stroke-width="0.3">ix</text>
</svg>
</body></html>
